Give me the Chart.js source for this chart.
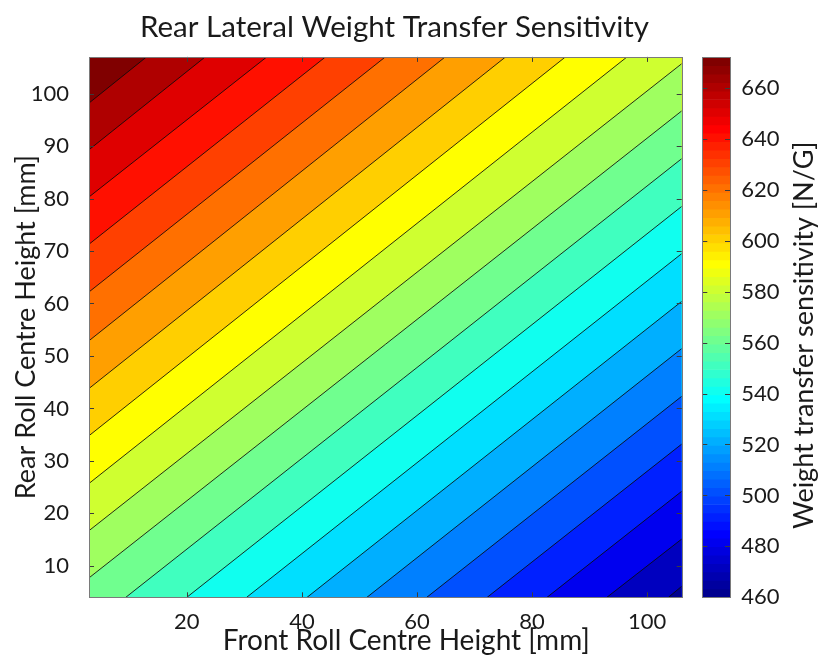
<!DOCTYPE html>
<html>
<head>
<meta charset="utf-8">
<script src="https://cdn.jsdelivr.net/npm/chart.js@4.4.1/dist/chart.umd.min.js"></script>
<style>
  body { margin: 0; background: #fff; }
  #wrap { position: relative; width: 819px; height: 657px; }
  #wrap canvas { position: absolute; left: 0; top: 0; }
</style>
</head>
<body>
<div id="wrap">
  <canvas id="contour" width="819" height="657"></canvas>
  <canvas id="colorbar" width="819" height="657"></canvas>
</div>
<script>
// axis limits and ticks [mm]
const xLimits = [3, 106];
const yLimits = [4, 107];
const xTicks = [20, 40, 60, 80, 100];
const yTicks = [10, 20, 30, 40, 50, 60, 70, 80, 90, 100];

// contour levels [N/G], top-left corner first
const levels = [662, 652, 642, 632, 622, 612, 602, 592, 582, 572, 562, 552, 542, 532, 522, 512, 502, 492, 482, 472, 462];
// where each contour line enters and leaves the axes
const lineStartX = [3, 3, 3, 3, 3, 3, 3, 3, 3, 3, 3, 9.4, 20.0, 30.4, 40.9, 51.3, 61.7, 72.2, 82.6, 93.0, 103.7];
const lineStartY = [98.2, 89.3, 80.3, 71.3, 62.2, 52.9, 43.8, 34.8, 25.7, 16.7, 7.7, 4, 4, 4, 4, 4, 4, 4, 4, 4, 4];
const lineEndX = [13.0, 23.2, 33.9, 44.1, 54.5, 64.9, 75.4, 85.8, 96.5, 106, 106, 106, 106, 106, 106, 106, 106, 106, 106, 106, 106];
const lineEndY = [107, 107, 107, 107, 107, 107, 107, 107, 107, 105.7, 96.7, 87.6, 78.5, 69.5, 60.4, 51.4, 42.3, 33.2, 24.2, 15.1, 6.1];

// colour axis
const colorLimits = [460, 672];
const colorTicks = [460, 480, 500, 520, 540, 560, 580, 600, 620, 640, 660];

const FONT = 'Lato';
const TEXT = '#1a1a1a';

// matlab jet(64)
function jet(i) {
  const c = v => Math.round(255 * Math.max(0, Math.min(1, v)));
  const r = Math.min((i - 24) / 16, (72 - i) / 16);
  const g = Math.min((i - 8) / 16, (56 - i) / 16);
  const b = Math.min((i + 8) / 16, (40 - i) / 16);
  return `rgb(${c(r)},${c(g)},${c(b)})`;
}
function colorOf(v) {
  const [lo, hi] = colorLimits;
  const idx = Math.floor((v - lo) / (hi - lo) * 64) + 1;
  return jet(Math.max(1, Math.min(64, idx)));
}

// region on the low side of contour j, closed round the bottom-right corner
function lowSide(j) {
  const [x0, x1] = xLimits, [y0, y1] = yLimits;
  const pts = [{x: lineStartX[j], y: lineStartY[j]}, {x: lineEndX[j], y: lineEndY[j]}];
  if (lineEndY[j] >= y1) pts.push({x: x1, y: y1});
  pts.push({x: x1, y: y0});
  if (lineStartX[j] <= x0) pts.push({x: x0, y: y0});
  pts.push(pts[0]);
  return pts;
}

const datasets = [];
// whole axes in the top colour, then each level painted over it
datasets.push({
  data: [{x: xLimits[0], y: yLimits[0]}, {x: xLimits[0], y: yLimits[1]}, {x: xLimits[1], y: yLimits[1]}, {x: xLimits[1], y: yLimits[0]}, {x: xLimits[0], y: yLimits[0]}],
  backgroundColor: colorOf(colorLimits[1]), fill: 'shape', order: 100
});
levels.forEach((lev, j) => {
  datasets.push({data: lowSide(j), backgroundColor: colorOf(lev), fill: 'shape', order: 99 - j});
});
levels.forEach((lev, j) => {
  datasets.push({
    data: [{x: lineStartX[j], y: lineStartY[j]}, {x: lineEndX[j], y: lineEndY[j]}],
    borderColor: 'rgba(10,10,10,0.85)', borderWidth: 1, fill: false, order: 0
  });
});
datasets.forEach(d => {
  d.showLine = true;
  d.pointRadius = 0;
  if (d.borderWidth === undefined) d.borderWidth = 0;
});

function innerTicks(ctx, area, xs, ys, xScale, yScale, len) {
  ctx.beginPath();
  if (xScale) xs.forEach(v => {
    const p = Math.round(xScale.getPixelForValue(v)) + 0.5;
    ctx.moveTo(p, area.bottom); ctx.lineTo(p, area.bottom - len);
    ctx.moveTo(p, area.top); ctx.lineTo(p, area.top + len);
  });
  ys.forEach(v => {
    const p = Math.round(yScale.getPixelForValue(v)) + 0.5;
    ctx.moveTo(area.left, p); ctx.lineTo(area.left + len, p);
    ctx.moveTo(area.right, p); ctx.lineTo(area.right - len, p);
  });
  ctx.stroke();
}

const axesFrame = {
  id: 'axesFrame',
  afterDatasetsDraw(chart) {
    const {ctx, chartArea: a, scales} = chart;
    ctx.save();
    ctx.strokeStyle = '#3c3c3c';
    ctx.lineWidth = 1;
    innerTicks(ctx, a, xTicks, yTicks, scales.x, scales.y, 5);
    ctx.strokeStyle = '#7a7a7a';
    ctx.strokeRect(Math.round(a.left) + 0.5, Math.round(a.top) + 0.5, Math.round(a.width), Math.round(a.height));
    // x axis label
    ctx.fillStyle = TEXT;
    ctx.font = `28px ${FONT}`;
    ctx.textAlign = 'center';
    ctx.textBaseline = 'middle';
    ctx.fillText('Front Roll Centre Height [mm]', (a.left + a.right) / 2 + 21, 641);
    ctx.restore();
  }
};

new Chart(document.getElementById('contour'), {
  type: 'scatter',
  data: {datasets},
  plugins: [axesFrame],
  options: {
    responsive: false,
    animation: false,
    events: [],
    layout: {padding: {top: 0, right: 30, bottom: 0, left: 0}},
    plugins: {
      legend: {display: false},
      tooltip: {enabled: false},
      title: {
        display: true,
        text: 'Rear Lateral Weight Transfer Sensitivity',
        color: TEXT,
        font: {family: FONT, size: 29.5, weight: 'normal'},
        padding: {top: 9.5, bottom: 12}
      }
    },
    scales: {
      x: {
        type: 'linear', position: 'bottom', min: xLimits[0], max: xLimits[1],
        afterBuildTicks: s => { s.ticks = xTicks.map(v => ({value: v})); },
        afterFit: s => { s.height = 59.7; },
        grid: {display: false}, border: {display: false},
        ticks: {color: TEXT, font: {family: FONT, size: 22}, padding: 3, maxRotation: 0, autoSkip: false}
      },
      y: {
        type: 'linear', position: 'left', min: yLimits[0], max: yLimits[1],
        afterBuildTicks: s => { s.ticks = yTicks.map(v => ({value: v})); },
        afterFit: s => { s.width = 89; },
        grid: {display: false}, border: {display: false},
        ticks: {color: TEXT, font: {family: FONT, size: 22}, padding: 12, autoSkip: false},
        title: {display: true, text: 'Rear Roll Centre Height [mm]', color: TEXT,
                font: {family: FONT, size: 27}, padding: {top: 10, bottom: 0}}
      },
      gap: {
        type: 'linear', position: 'right', display: true,
        grid: {display: false}, border: {display: false}, ticks: {display: false},
        afterFit: s => { s.width = 107.3; }
      }
    }
  }
});

// colour bar: 64 jet steps across the colour limits
const stepSize = (colorLimits[1] - colorLimits[0]) / 64;
const steps = [], stepColors = [];
for (let i = 0; i < 64; i++) {
  steps.push({x: 'cb', y: [colorLimits[0] + i * stepSize, colorLimits[0] + (i + 1) * stepSize]});
  stepColors.push(jet(i + 1));
}

const barFrame = {
  id: 'barFrame',
  afterDatasetsDraw(chart) {
    const {ctx, chartArea: a, scales} = chart;
    ctx.save();
    ctx.strokeStyle = '#3c3c3c';
    ctx.lineWidth = 1;
    innerTicks(ctx, a, [], colorTicks, null, scales.y, 5);
    ctx.strokeStyle = '#7a7a7a';
    ctx.strokeRect(Math.round(a.left) + 0.5, Math.round(a.top) + 0.5, Math.round(a.width), Math.round(a.height));
    ctx.translate(804, (a.top + a.bottom) / 2 + 8);
    ctx.rotate(-Math.PI / 2);
    ctx.fillStyle = TEXT;
    ctx.font = `27px ${FONT}`;
    ctx.textAlign = 'center';
    ctx.textBaseline = 'middle';
    ctx.fillText('Weight transfer sensitivity [N/G]', 0, 0);
    ctx.restore();
  }
};

new Chart(document.getElementById('colorbar'), {
  type: 'bar',
  data: {
    labels: ['cb'],
    datasets: [{data: steps, backgroundColor: stepColors, borderWidth: 0, barPercentage: 1, categoryPercentage: 1}]
  },
  plugins: [barFrame],
  options: {
    responsive: false,
    animation: false,
    events: [],
    layout: {padding: {top: 57.3, right: 0, bottom: 59.7, left: 702.3}},
    plugins: {legend: {display: false}, tooltip: {enabled: false}},
    scales: {
      x: {display: false},
      y: {
        position: 'right', min: colorLimits[0], max: colorLimits[1],
        afterBuildTicks: s => { s.ticks = colorTicks.map(v => ({value: v})); },
        afterFit: s => { s.width = 89; },
        grid: {display: false}, border: {display: false},
        ticks: {color: TEXT, font: {family: FONT, size: 22}, padding: 3.3, autoSkip: false}
      }
    }
  }
});
</script>
</body>
</html>
